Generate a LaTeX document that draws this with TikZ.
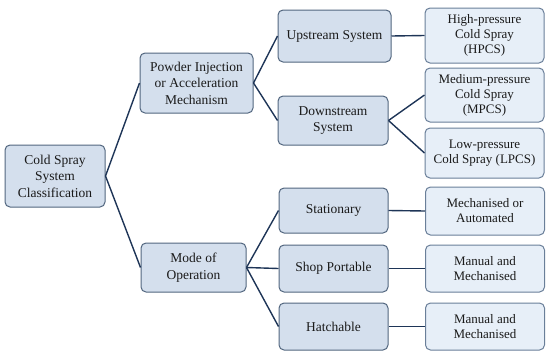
\documentclass[tikz,border=0pt]{standalone}
\usepackage{fontspec}
\setmainfont{Liberation Serif}
\definecolor{boxfill}{HTML}{D4DFED}
\definecolor{boxdraw}{HTML}{52667F}
\definecolor{leaffill}{HTML}{E7EFF8}
\definecolor{leafdraw}{HTML}{6A7F99}
\definecolor{linkcol}{HTML}{1E3557}
\definecolor{txtcol}{HTML}{1A1A1A}
\begin{document}
\begin{tikzpicture}[x=1pt,y=-1pt,
  mainbox/.style={draw=boxdraw,fill=boxfill,line width=1pt,rounded corners=5pt,
    align=center,inner sep=0pt,text=txtcol,font=\fontsize{13.5}{16.5}\selectfont},
  leafbox/.style={draw=leafdraw,fill=leaffill,line width=1pt,rounded corners=5pt,
    align=center,inner sep=0pt,text=txtcol,font=\fontsize{13}{15}\selectfont,
    minimum width=119pt},
  link/.style={draw=linkcol,line width=1.4pt}]
\useasboundingbox (0,0) rectangle (550,357);
% level 0
\node[mainbox,minimum width=100pt,minimum height=62pt] (root) at (55,176) {Cold Spray\\System\\Classification};
% level 1
\node[mainbox,minimum width=113pt,minimum height=60pt] (powder) at (196.5,83) {Powder Injection\\or Acceleration\\Mechanism};
\node[mainbox,minimum width=105pt,minimum height=49pt] (mode) at (193.5,267.5) {Mode of\\Operation};
% level 2
\node[mainbox,minimum width=113pt,minimum height=52pt] (up) at (334.5,36) {Upstream System};
\node[mainbox,minimum width=110pt,minimum height=49pt] (down) at (333,120.5) {Downstream\\System};
\node[mainbox,minimum width=109pt,minimum height=45pt] (stat) at (333.5,210.5) {Stationary};
\node[mainbox,minimum width=109pt,minimum height=47pt] (shop) at (333.5,268.5) {Shop Portable};
\node[mainbox,minimum width=109pt,minimum height=47pt] (hatch) at (333.5,326.5) {Hatchable};
% level 3
\node[leafbox,minimum height=55pt] (hpcs) at (484.5,35.5) {High-pressure\\Cold Spray\\(HPCS)};
\node[leafbox,minimum height=54pt] (mpcs) at (484.5,95) {Medium-pressure\\Cold Spray\\(MPCS)};
\node[leafbox,minimum height=50pt] (lpcs) at (484.5,153) {Low-pressure\\Cold Spray (LPCS)};
\node[leafbox,minimum height=48pt] (mech) at (485,211) {Mechanised or\\Automated};
\node[leafbox,minimum height=47pt] (man1) at (485,268.5) {Manual and\\Mechanised};
\node[leafbox,minimum height=47pt] (man2) at (485,326.5) {Manual and\\Mechanised};
% connectors
\draw[link] (root.east) -- (powder.west);
\draw[link] (root.east) -- (mode.west);
\draw[link] (powder.east) -- (up.west);
\draw[link] (powder.east) -- (down.west);
\draw[link] (up.east) -- (hpcs.west);
\draw[link] (down.east) -- (mpcs.west);
\draw[link] (down.east) -- (lpcs.west);
\draw[link] (mode.east) -- (stat.west);
\draw[link] (mode.east) -- (shop.west);
\draw[link] (mode.east) -- (hatch.west);
\draw[link] (stat.east) -- (mech.west);
\draw[link] (shop.east) -- (man1.west);
\draw[link] (hatch.east) -- (man2.west);
\end{tikzpicture}
\end{document}
